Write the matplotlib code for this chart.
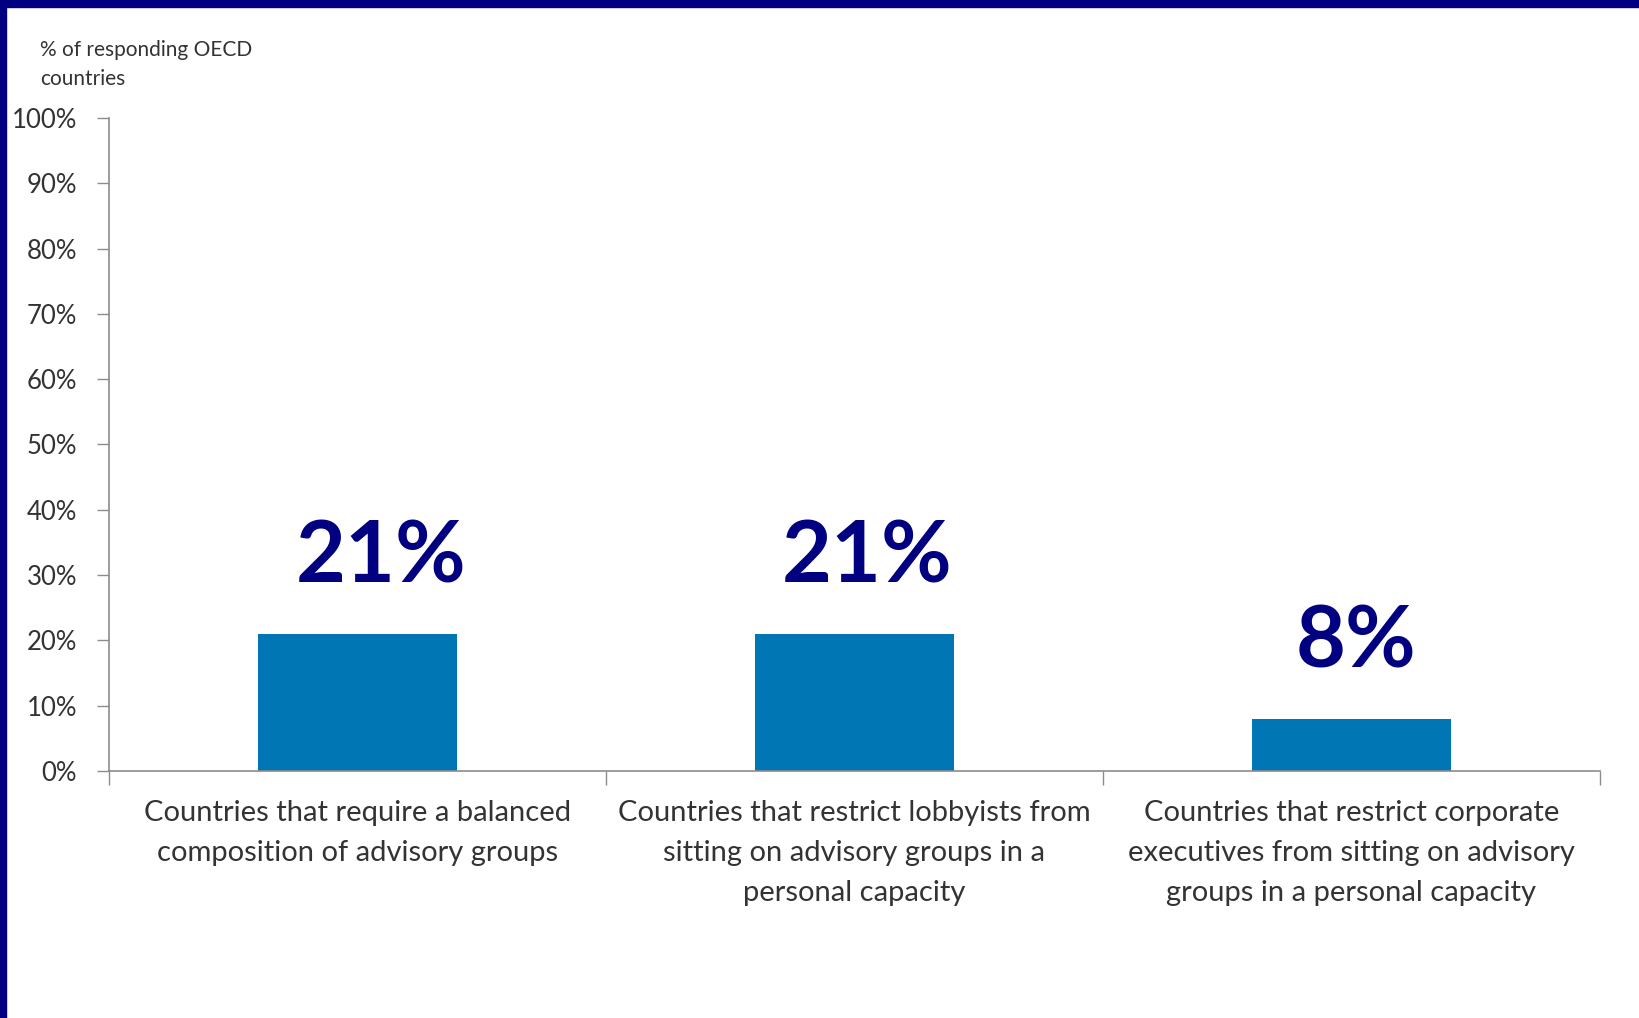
import matplotlib.pyplot as plt
from matplotlib.patches import Rectangle
from matplotlib.ticker import PercentFormatter

# Chart data
CATEGORIES = ['Countries that require a balanced\ncomposition of advisory groups',
              'Countries that restrict lobbyists from\nsitting on advisory groups in a\npersonal capacity',
              'Countries that restrict corporate\nexecutives from sitting on advisory\ngroups in a personal capacity']
VALUES = [21, 21, 8]
Y_TICKS = [0, 10, 20, 30, 40, 50, 60, 70, 80, 90, 100]

# Horizontal nudge (points) of each big label, as placed on the slide
LABEL_NUDGE = [17, 9, 3]

BAR_COLOUR = '#0077B4'
LABEL_COLOUR = '#000080'
AXIS_COLOUR = '#8C8C8C'
TEXT_COLOUR = '#333333'

plt.rcParams['font.family'] = ['Lato', 'DejaVu Sans']

fig = plt.figure(figsize=(16.4, 10.18), dpi=100)
fig.patch.set_facecolor('white')

# Navy slide frame along top and left edges
fig.patches.append(Rectangle((0, 1 - 7 / 1018), 1, 7 / 1018, transform=fig.transFigure,
                             color='#000080', zorder=0))
fig.patches.append(Rectangle((0, 0), 6 / 1640, 1, transform=fig.transFigure,
                             color='#000080', zorder=0))

ax = fig.add_axes([109 / 1640, 1 - 771 / 1018, (1600 - 109) / 1640, (771 - 118) / 1018])

x = range(len(VALUES))
bars = ax.bar(x, VALUES, width=0.40, color=BAR_COLOUR, zorder=2)

# Big value labels above the bars
for xi, v, dx in zip(x, VALUES, LABEL_NUDGE):
    ax.annotate(f'{v}%', (xi, v), xytext=(dx, 26), textcoords='offset points',
                ha='center', va='bottom', fontsize=62, fontweight='bold',
                color=LABEL_COLOUR)

ax.set_xlim(-0.5, len(VALUES) - 0.5)
ax.set_ylim(0, 100)
ax.set_yticks(Y_TICKS)
ax.yaxis.set_major_formatter(PercentFormatter(decimals=0))
ax.tick_params(axis='y', direction='out', length=9, width=1, color=AXIS_COLOUR,
               labelsize=18.5, labelcolor=TEXT_COLOUR, pad=14)

ax.set_xticks(list(x))
ax.set_xticklabels(CATEGORIES, fontsize=21, color=TEXT_COLOUR, linespacing=1.67)
ax.tick_params(axis='x', length=0, pad=21)
ax.set_xticks([-0.5, 0.5, 1.5, 2.5], minor=True)
ax.tick_params(axis='x', which='minor', direction='out', length=10, width=1,
               color=AXIS_COLOUR)

for side in ['top', 'right']:
    ax.spines[side].set_visible(False)
for side in ['left', 'bottom']:
    ax.spines[side].set_color(AXIS_COLOUR)
    ax.spines[side].set_linewidth(1.2)

fig.text(40 / 1640, 1 - 40 / 1018, '% of responding OECD\ncountries', ha='left', va='top',
         fontsize=15, color=TEXT_COLOUR, linespacing=1.55)

plt.savefig('out.png', dpi=100)
plt.close()
